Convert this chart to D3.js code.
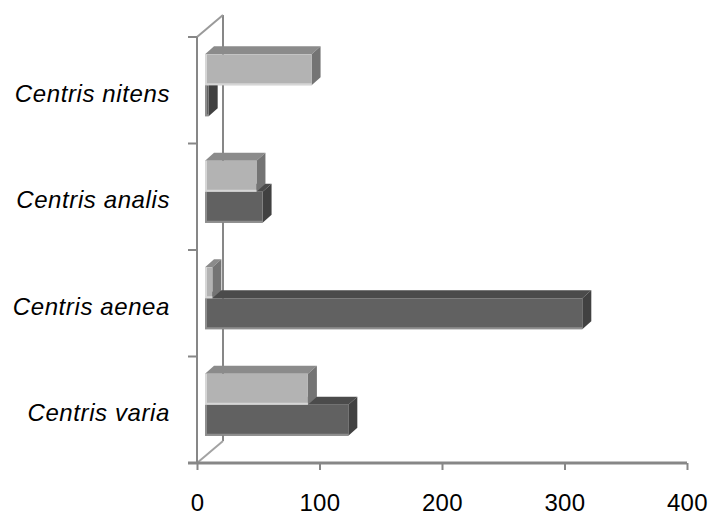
<!DOCTYPE html>
<html>
<head>
<meta charset="utf-8">
<script src="https://cdn.jsdelivr.net/npm/d3@7/dist/d3.min.js"></script>
<style>
  html, body { margin: 0; padding: 0; background: #fff; }
  svg { display: block; }
  .cat { font-family: "Liberation Sans", Arial, sans-serif; font-style: italic; font-size: 24px; letter-spacing: 0.6px; fill: #000; }
  .num { font-family: "Liberation Sans", Arial, sans-serif; font-size: 24px; letter-spacing: 0.4px; fill: #000; }
</style>
</head>
<body>
<svg id="chart" width="709" height="517"></svg>
<script>
// Species, listed bottom to top
const categories = ["Centris varia", "Centris aenea", "Centris analis", "Centris nitens"];
// Lower (dark) bar of each pair
const seriesDark = [117, 308, 47, 3];
// Upper (light) bar of each pair
const seriesLight = [84, 6, 42, 87];
const xTicks = [0, 100, 200, 300, 400];

const svg = d3.select("#chart");

// Front plane of the plot box
const x0 = 197, x1 = 687, yTop = 37, yBot = 463;
// Depth of the box (toward the back wall)
const boxDX = 26, boxDY = -22;
// Bars sit a little behind the front plane and have their own thickness
const barOffX = 8, barOffY = -5;
const barDX = 9, barDY = -8;

const x = d3.scaleLinear().domain([0, 400]).range([x0, x1]);
const y = d3.scaleBand().domain(categories).range([yBot, yTop]).padding(0);
const barH = y.bandwidth() * 0.29;

const axisCol = "#878787";

// Back wall edge and the two depth lines of the box
svg.append("line").attr("x1", x0 + boxDX).attr("y1", yTop + boxDY)
  .attr("x2", x0 + boxDX).attr("y2", yBot + boxDY)
  .attr("stroke", axisCol).attr("stroke-width", 2);
svg.append("line").attr("x1", x0).attr("y1", yTop)
  .attr("x2", x0 + boxDX).attr("y2", yTop + boxDY)
  .attr("stroke", "#9a9a9a").attr("stroke-width", 2);
svg.append("line").attr("x1", x0).attr("y1", yBot)
  .attr("x2", x0 + boxDX).attr("y2", yBot + boxDY)
  .attr("stroke", "#a3a3a3").attr("stroke-width", 2);

// Colour sets for the faces of each series
const styles = {
  dark:  { front: "#616161", top: "#4b4b4b", side: "#414141", edge: "#8e8e8e" },
  light: { front: "#b3b3b3", top: "#8b8b8b", side: "#747474", edge: "#d6d6d6" }
};

const rows = categories.map((c, i) => ({ cat: c, dark: seriesDark[i], light: seriesLight[i] }));

const bars = svg.append("g");

function drawBar(g, value, yFront, st) {
  const xl = x(0) + barOffX;
  const xr = x(value) + barOffX;
  const yt = yFront, yb = yFront + barH;
  // top face
  g.append("path")
    .attr("d", `M${xl},${yt} L${xl + barDX},${yt + barDY} L${xr + barDX},${yt + barDY} L${xr},${yt} Z`)
    .attr("fill", st.top);
  // side face
  g.append("path")
    .attr("d", `M${xr},${yt} L${xr + barDX},${yt + barDY} L${xr + barDX},${yb + barDY} L${xr},${yb} Z`)
    .attr("fill", st.side);
  // front face
  g.append("rect")
    .attr("x", xl).attr("y", yt)
    .attr("width", Math.max(0, xr - xl)).attr("height", barH)
    .attr("fill", st.front);
  // soft highlight along the left and bottom edges
  g.append("path")
    .attr("d", `M${xl + 1},${yt} L${xl + 1},${yb - 1} L${xr},${yb - 1}`)
    .attr("fill", "none").attr("stroke", st.edge).attr("stroke-width", 2);
}

rows.forEach(d => {
  const cy = y(d.cat) + y.bandwidth() / 2 + barOffY;
  const g = bars.append("g");
  drawBar(g, d.dark, cy, styles.dark);
  drawBar(g, d.light, cy - barH, styles.light);
});

// Front vertical axis with ticks on category boundaries
svg.append("line").attr("x1", x0).attr("y1", yTop).attr("x2", x0).attr("y2", yBot)
  .attr("stroke", axisCol).attr("stroke-width", 2);
const bounds = categories.map(c => y(c) + y.bandwidth()).concat([yTop]);
svg.append("g").selectAll("line").data(bounds).join("line")
  .attr("x1", x0 - 9).attr("x2", x0).attr("y1", d => d).attr("y2", d => d)
  .attr("stroke", axisCol).attr("stroke-width", 2);

// Horizontal value axis
const xAxis = d3.axisBottom(x).tickValues(xTicks).tickSize(7).tickPadding(24).tickFormat(d3.format("d"));
const gx = svg.append("g").attr("transform", `translate(0,${yBot})`).call(xAxis);
gx.select(".domain").remove();
gx.selectAll(".tick line").attr("stroke", axisCol).attr("stroke-width", 2);
gx.selectAll(".tick text").attr("class", "num").attr("font-size", null).attr("font-family", null).attr("fill", null);
gx.append("line").attr("x1", x0 - 9).attr("x2", x1).attr("y1", 0).attr("y2", 0)
  .attr("stroke", axisCol).attr("stroke-width", 3);

// Category labels
svg.append("g").selectAll("text").data(categories).join("text")
  .attr("class", "cat")
  .attr("x", 170)
  .attr("y", d => y(d) + y.bandwidth() / 2 + 3)
  .attr("dy", "0.35em")
  .attr("text-anchor", "end")
  .text(d => d);
</script>
</body>
</html>
